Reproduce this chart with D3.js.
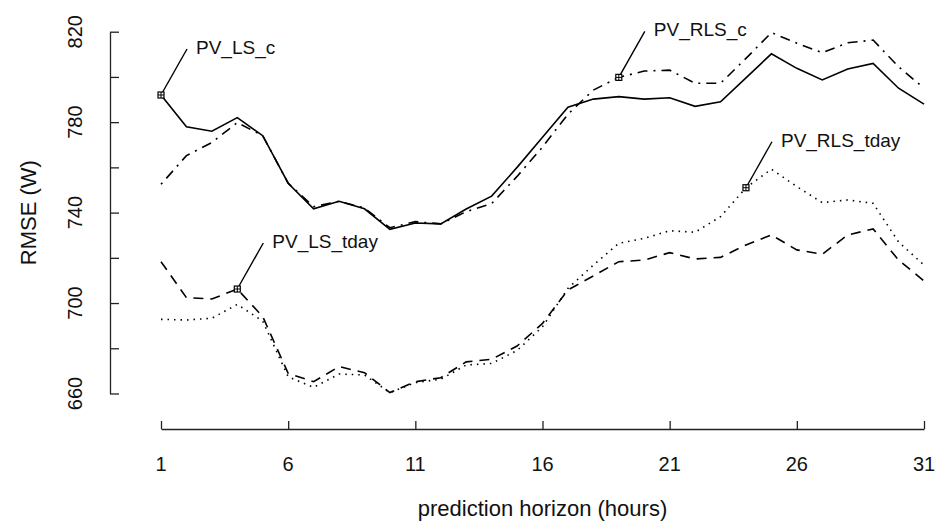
<!DOCTYPE html>
<html>
<head>
<meta charset="utf-8">
<title>RMSE vs prediction horizon</title>
<style>
  body { margin: 0; background: #fff; }
  text { font-family: "Liberation Sans", Arial, sans-serif; fill: #111; }
</style>
</head>
<body>
<script src="https://cdn.jsdelivr.net/npm/d3@7"></script>
<script>
// data
var hours = [1,2,3,4,5,6,7,8,9,10,11,12,13,14,15,16,17,18,19,20,21,22,23,24,25,26,27,28,29,30,31];
var pvLsC = [792,778,776,782,774,753,741.7,745,741.7,732.6,735.4,735,741.6,747.3,760,773.3,786.6,790.2,791.3,790.2,790.8,787,789,799.6,810.2,803.8,798.7,803.5,806,795,788];
var pvRlsC = [752.5,765.2,771,779.8,774,753,742.6,745,742,733.3,736,735,740.4,744,756,769,783.5,794.2,799.8,802.6,803,797.2,797.2,808.2,819.6,814.9,810.7,815.1,816.3,804.5,795];
var pvLsTday = [718.3,702.4,701.8,706.2,694,668.9,665.2,671.9,669.2,660.4,665.2,667,674,675.1,681,691,705.8,712,718.3,719,722.3,719.5,720.2,725.7,730.1,723.5,721.6,730.1,732.8,719,709.8];
var pvRlsTday = [692.8,692.5,693.3,699.4,692,667.4,662.7,668.6,668.2,660.4,664.8,666.3,672.6,673.3,679,689.5,706.5,716.8,726.4,728.6,732,731.3,738.2,751,759.2,751.5,744.4,745.6,744.1,727,716.8];

var seriesNames = ["PV_LS_c", "PV_RLS_c", "PV_LS_tday", "PV_RLS_tday"];
var seriesValues = [pvLsC, pvRlsC, pvLsTday, pvRlsTday];
var seriesDash = ["none", "2,6,10,6", "10,7", "1.5,5"];
var labelHour = [1, 19, 4, 24];   // where each name is attached

var xTicks = [1,6,11,16,21,26,31];
var yTicks = [660,680,700,720,740,760,780,800,820];
var yLabels = [660,700,740,780,820];

var width = 936, height = 525;

var svg = d3.select("body").append("svg")
    .attr("width", width)
    .attr("height", height);

var x = d3.scaleLinear().domain([1, 31]).range([161, 924]);
var y = d3.scaleLinear().domain([660, 820]).range([393.5, 31.7]);

// y axis, ticks point inward
var yAxis = svg.append("g")
    .attr("transform", "translate(110,0)")
    .call(d3.axisRight(y).tickValues(yTicks).tickSize(9).tickSizeOuter(0).tickFormat(""));
yAxis.select(".domain").attr("stroke", "#222").attr("stroke-width", 1.3);
yAxis.selectAll(".tick line").attr("stroke", "#222").attr("stroke-width", 1.3);

svg.selectAll(".ylab")
    .data(yLabels)
    .enter().append("text")
    .attr("class", "ylab")
    .attr("transform", function(d){ return "translate(82," + y(d) + ") rotate(-90)"; })
    .attr("text-anchor", "middle")
    .attr("font-size", 20)
    .text(function(d){ return d; });

// x axis, ticks point up
var xAxis = svg.append("g")
    .attr("transform", "translate(0,429)")
    .call(d3.axisTop(x).tickValues(xTicks).tickSize(8).tickSizeOuter(0).tickFormat(""));
xAxis.select(".domain").attr("stroke", "#222").attr("stroke-width", 1.3);
xAxis.selectAll(".tick line").attr("stroke", "#222").attr("stroke-width", 1.3);

svg.selectAll(".xlab")
    .data(xTicks)
    .enter().append("text")
    .attr("class", "xlab")
    .attr("x", function(d){ return x(d); })
    .attr("y", 471)
    .attr("text-anchor", "middle")
    .attr("font-size", 20)
    .text(function(d){ return d; });

// axis titles
svg.append("text")
    .attr("x", (x(1) + x(31)) / 2)
    .attr("y", 516)
    .attr("text-anchor", "middle")
    .attr("font-size", 22)
    .text("prediction horizon (hours)");

svg.append("text")
    .attr("transform", "translate(36," + (y(660) + y(820)) / 2 + ") rotate(-90)")
    .attr("text-anchor", "middle")
    .attr("font-size", 22)
    .text("RMSE (W)");

// lines
var line = d3.line()
    .x(function(d, i){ return x(hours[i]); })
    .y(function(d){ return y(d); });

svg.selectAll(".series")
    .data(seriesValues)
    .enter().append("path")
    .attr("class", "series")
    .attr("fill", "none")
    .attr("stroke", "#000")
    .attr("stroke-width", 1.6)
    .attr("stroke-dasharray", function(d, i){ return seriesDash[i]; })
    .attr("d", line);

// labels with leader lines and square-plus markers
seriesNames.forEach(function(name, i) {
  var h = labelHour[i];
  var v = seriesValues[i][hours.indexOf(h)];
  var px = x(h), py = y(v);
  var g = svg.append("g");
  g.append("line")
    .attr("x1", px).attr("y1", py)
    .attr("x2", px + 26).attr("y2", py - 46)
    .attr("stroke", "#000").attr("stroke-width", 1.4);
  g.append("rect")
    .attr("x", px - 3).attr("y", py - 3)
    .attr("width", 6).attr("height", 6)
    .attr("fill", "#fff").attr("stroke", "#000").attr("stroke-width", 1.2);
  g.append("path")
    .attr("d", "M" + (px - 3) + "," + py + "H" + (px + 3) + "M" + px + "," + (py - 3) + "V" + (py + 3))
    .attr("stroke", "#000").attr("stroke-width", 1);
  g.append("text")
    .attr("x", px + 35)
    .attr("y", py - 41)
    .attr("font-size", 19)
    .text(name);
});
</script>
</body>
</html>
